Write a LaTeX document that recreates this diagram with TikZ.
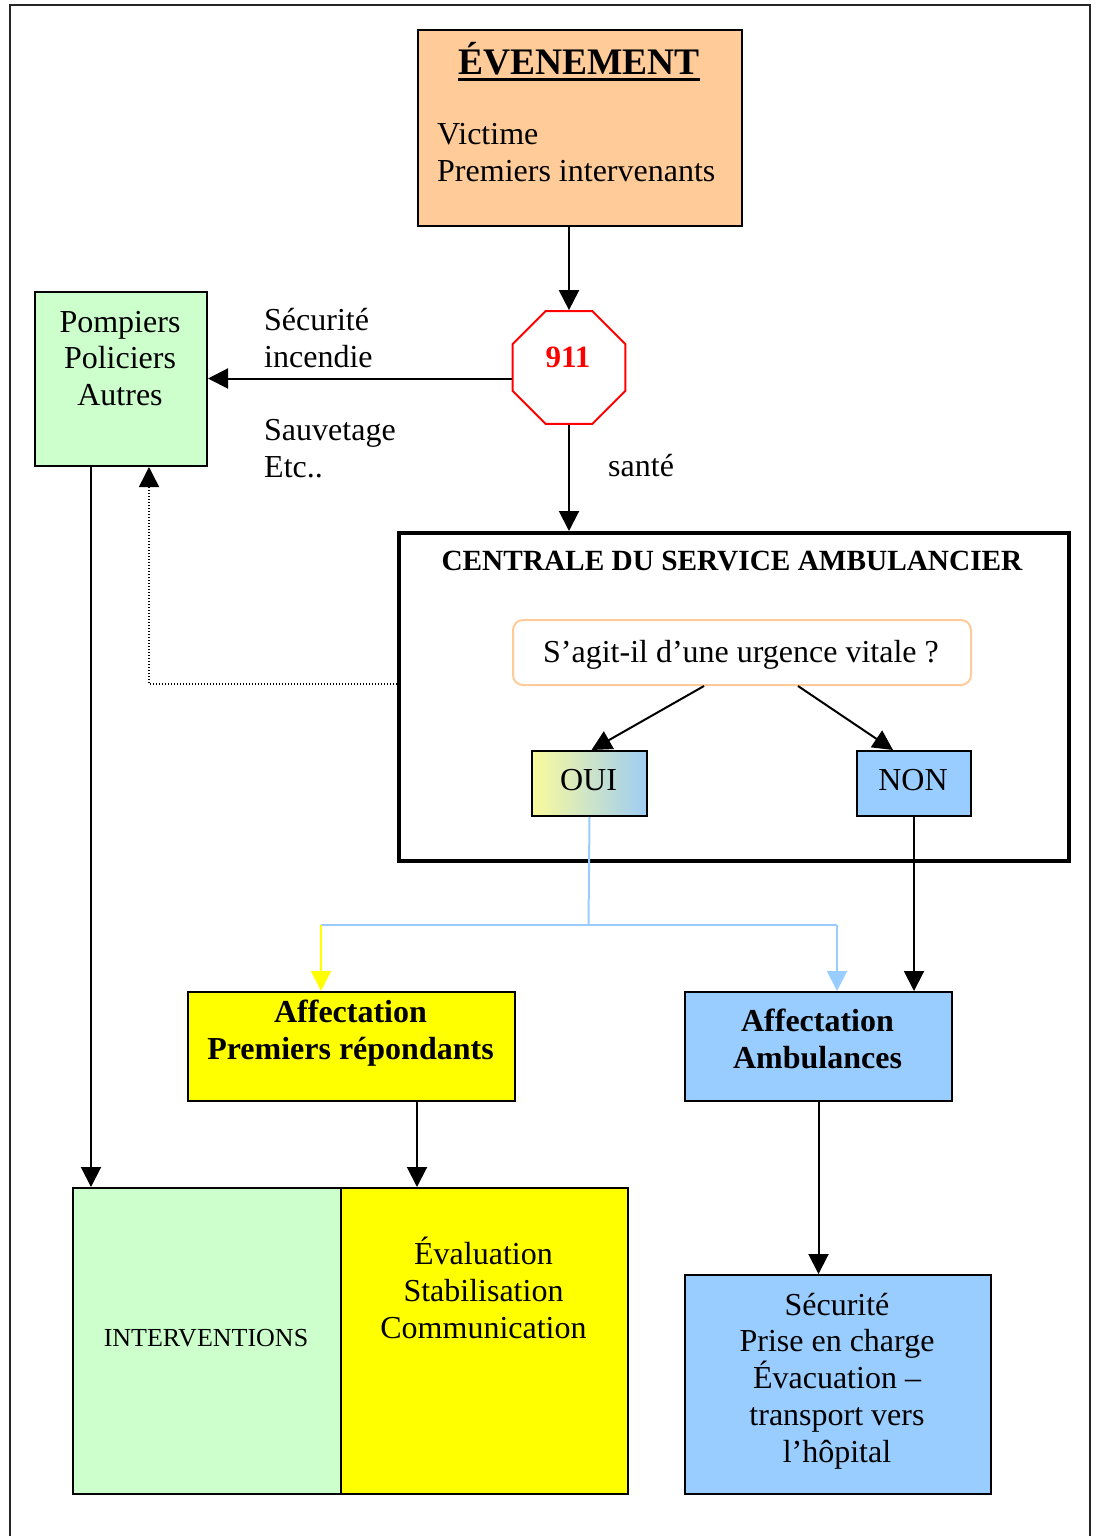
\documentclass[tikz,border=0pt]{standalone}
\usepackage{fontspec}
\setmainfont{Liberation Serif}
\usetikzlibrary{arrows.meta,shapes.geometric,calc}
\definecolor{peach}{HTML}{FFCC99}
\definecolor{mint}{HTML}{CCFFCC}
\definecolor{sky}{HTML}{99CCFF}
\definecolor{paleyel}{HTML}{FAFA9C}
\definecolor{ouiblue}{HTML}{9FCDF3}
\definecolor{yel}{HTML}{FFFF00}
\begin{document}
\begin{tikzpicture}[x=1pt,y=-1pt,
  box/.style={draw=black,line width=2pt,anchor=north west,inner sep=0pt},
  tip/.style={-{Triangle[width=20pt,length=20pt]}},
  conn/.style={line width=2pt,tip},
  txt/.style={anchor=base,inner sep=0pt,font=\fontsize{32}{37}\selectfont},
  txtl/.style={anchor=base west,inner sep=0pt,font=\fontsize{32}{37}\selectfont},
  btxt/.style={anchor=base,inner sep=0pt,font=\fontsize{32}{37}\selectfont\bfseries}]
\useasboundingbox (0,0) rectangle (1097,1536);
\draw[line width=2.5pt,black!85] (10,1550) -- (10,5) -- (1090,5) -- (1090,1550);

% boxes
\node[box,fill=peach,minimum width=324pt,minimum height=196pt] (ev) at (417,29) {};
\node[regular polygon,regular polygon sides=8,draw=red,line width=2pt,fill=white,minimum size=122pt,inner sep=0pt] (oct) at (569,367.5) {};
\node[box,fill=mint,minimum width=172pt,minimum height=174pt] (pomp) at (34,291) {};
\node[box,line width=4pt,fill=white,minimum width=670pt,minimum height=328pt] (cent) at (397,531) {};
\node[box,draw=peach,rounded corners=10pt,minimum width=458pt,minimum height=65pt] (q) at (512,619) {};
\node[box,left color=paleyel,right color=ouiblue,minimum width=115pt,minimum height=65pt] (oui) at (531,750) {};
\node[box,fill=sky,minimum width=114pt,minimum height=65pt] (non) at (856,750) {};
\node[box,fill=yel,minimum width=327pt,minimum height=109pt] (aff) at (187,991) {};
\node[box,fill=sky,minimum width=267pt,minimum height=109pt] (amb) at (684,991) {};
\node[box,fill=mint,minimum width=268pt,minimum height=306pt] (inter) at (72,1187) {};
\node[box,fill=yel,minimum width=287pt,minimum height=306pt] (eval) at (340,1187) {};
\node[box,fill=sky,minimum width=306pt,minimum height=219pt] (sec) at (684,1274) {};

% texts
\node[anchor=base,inner sep=0pt,font=\fontsize{37.5}{42}\selectfont\bfseries] (evt) at (579,75) {ÉVENEMENT};
\draw[line width=3pt] ($(evt.base west)+(0,5)$) -- ($(evt.base east)+(0,5)$);
\node[txtl] (vic) at (437,144) {Victime};
\node[txtl] (pint) at (437,181) {Premiers intervenants};
\node[anchor=base,inner sep=0pt,text=red,font=\fontsize{31}{36}\selectfont\bfseries] (n911) at (568,367) {911};
\node[txt] (t1) at (120,332) {Pompiers};
\node[txt] (t2) at (120,368) {Policiers};
\node[txt] (t3) at (120,405) {Autres};
\node[txtl] (l1) at (264,330) {Sécurité};
\node[txtl] (l2) at (264,367) {incendie};
\node[txtl] (l3) at (264,440) {Sauvetage};
\node[txtl] (l4) at (264,477) {Etc..};
\node[txtl] (sante) at (608,476) {santé};
\node[anchor=base,inner sep=0pt,font=\fontsize{29.3}{34}\selectfont\bfseries] (ct) at (732,570) {CENTRALE DU SERVICE AMBULANCIER};
\node[txt] (qt) at (741,662) {S’agit-il d’une urgence vitale ?};
\node[txt] (ouit) at (588.5,790) {OUI};
\node[txt] (nont) at (913,790) {NON};
\node[btxt] (a1) at (350.5,1022) {Affectation};
\node[btxt] (a2) at (350.5,1059) {Premiers répondants};
\node[btxt] (b1) at (817.5,1031) {Affectation};
\node[btxt] (b2) at (817.5,1068) {Ambulances};
\node[anchor=base,inner sep=0pt,font=\fontsize{26}{31}\selectfont] (it) at (206,1346) {INTERVENTIONS};
\node[txt] (e1) at (483.5,1264) {Évaluation};
\node[txt] (e2) at (483.5,1301) {Stabilisation};
\node[txt] (e3) at (483.5,1338) {Communication};
\node[txt] (s1) at (837,1315) {Sécurité};
\node[txt] (s2) at (837,1351) {Prise en charge};
\node[txt] (s3) at (837,1388) {Évacuation –};
\node[txt] (s4) at (837,1425) {transport vers};
\node[txt] (s5) at (837,1462) {l’hôpital};

% connectors
\draw[conn] (oct.north |- ev.south) -- (oct.north);
\coordinate (ow) at ($(oct.west)+(0,11)$);
\draw[conn] (ow) -- (ow -| pomp.east);
\draw[conn] (oct.south) -- (oct.south |- cent.north);
\draw[conn] ($(q.south west)+(192,0)$) -- ($(oui.north)+(2,0)$);
\draw[conn] ($(q.south west)+(286,0)$) -- ($(non.north)+(-21,0)$);
\coordinate (dotstart) at ($(cent.north west)+(0,153)$);
\coordinate (dotend) at ($(pomp.south west)+(115,0)$);
\draw[line width=1.5pt,dash pattern=on 1.5pt off 1.5pt,tip] (dotstart) -| (dotend);
\coordinate (br) at (588.5,925);
\coordinate (bl) at (321,925);
\coordinate (brr) at (837,925);
\draw[sky,line width=2pt] (oui.south) -- (br);
\draw[sky,line width=2pt] (bl) -- (brr);
\draw[yel,conn] (bl) -- (bl |- aff.north);
\draw[sky,conn] (brr) -- (brr |- amb.north);
\draw[conn] (non.south) -- (non.south |- amb.north);
\coordinate (pd) at ($(pomp.south west)+(57,0)$);
\draw[conn] (pd) -- (pd |- inter.north);
\coordinate (ad) at ($(aff.south west)+(230,0)$);
\draw[conn] (ad) -- (ad |- eval.north);
\draw[conn] (amb.south) -- (amb.south |- sec.north);
\end{tikzpicture}
\end{document}
